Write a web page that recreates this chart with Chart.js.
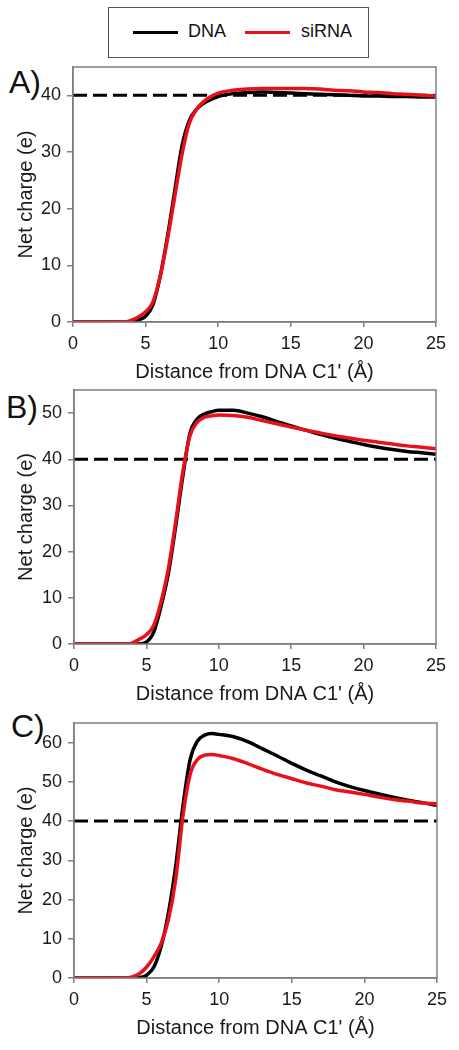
<!DOCTYPE html>
<html>
<head>
<meta charset="utf-8">
<script src="https://cdn.jsdelivr.net/npm/chart.js@4/dist/chart.umd.min.js"></script>
<style>
  body { margin: 0; background: #fff; font-family: Arial, "Liberation Sans", sans-serif; }
  #wrap { position: relative; width: 459px; height: 1050px; }
  canvas { position: absolute; left: 0; }
  .panel { position: absolute; font-size: 32px; color: #111; line-height: 1; }
  #legend { position: absolute; left: 108px; top: 7px; width: 259px; height: 49px;
            border: 1px solid #555; box-sizing: content-box; }
  .key { position: absolute; top: 23px; height: 3px; width: 45px; }
  .lbl { position: absolute; top: 13px; font-size: 18px; color: #111; }
</style>
</head>
<body>
<div id="wrap">
  <div id="legend">
    <div class="key" style="left:24px;background:#000"></div>
    <div class="lbl" style="left:79px">DNA</div>
    <div class="key" style="left:136px;background:#e8101a"></div>
    <div class="lbl" style="left:192px">siRNA</div>
  </div>
  <div class="panel" style="left:9px;top:66px">A)</div>
  <div class="panel" style="left:6px;top:391px">B)</div>
  <div class="panel" style="left:11px;top:710px">C)</div>
  <canvas id="chartA" style="top:60px" width="459" height="324"></canvas>
  <canvas id="chartB" style="top:386px" width="459" height="320"></canvas>
  <canvas id="chartC" style="top:719px" width="459" height="321"></canvas>
</div>
<script>
// distance from DNA C1' (Å)
const distance = [0, 1, 2, 3, 3.5, 4, 4.5, 5, 5.5, 6, 6.5, 7, 7.5, 8, 8.5, 9, 9.5, 10,
                  11, 12, 13, 14, 15, 16, 17, 18, 19, 20, 21, 22, 23, 24, 25];

// panel A
const dnaA   = [0, 0, 0, 0, 0, 0.1, 0.4, 1.0, 3.0, 8, 15, 23, 31, 35.5, 37.5, 38.6, 39.3, 39.8,
                40.3, 40.5, 40.6, 40.5, 40.4, 40.3, 40.2, 40.1, 40.0, 39.9, 39.9, 39.8, 39.8, 39.7, 39.7];
const sirnaA = [0, 0, 0, 0, 0, 0.3, 0.9, 1.8, 3.5, 8, 14.5, 22, 29.5, 35, 37.5, 38.9, 39.8, 40.4,
                40.9, 41.1, 41.2, 41.2, 41.2, 41.2, 41.1, 40.9, 40.8, 40.6, 40.5, 40.3, 40.2, 40.0, 39.9];

// panel B
const dnaB   = [0, 0, 0, 0, 0, 0, 0, 0.4, 2.5, 8, 15, 25, 36, 45.5, 48.7, 49.8, 50.3, 50.6,
                50.6, 50.0, 49.2, 48.2, 47.2, 46.3, 45.4, 44.6, 43.9, 43.2, 42.6, 42.1, 41.7, 41.4, 41.1];
const sirnaB = [0, 0, 0, 0, 0, 0.2, 1.0, 2.0, 4.0, 9, 16, 26, 37, 45, 48, 49.1, 49.4, 49.6,
                49.5, 49.1, 48.4, 47.7, 47.0, 46.3, 45.7, 45.1, 44.6, 44.1, 43.7, 43.3, 42.9, 42.6, 42.3];

// panel C
const dnaC   = [0, 0, 0, 0, 0, 0, 0.1, 0.7, 2.8, 8, 16.5, 28.4, 43.8, 55.7, 60.4, 61.9, 62.3, 62.1,
                61.5, 60.2, 58.4, 56.6, 54.7, 53.0, 51.5, 50.0, 48.8, 47.8, 46.9, 46.1, 45.3, 44.7, 44.0];
const sirnaC = [0, 0, 0, 0, 0, 0.3, 1.1, 2.8, 5.4, 8.8, 14.8, 25, 41.2, 51.9, 55.7, 56.8, 57.0, 56.7,
                55.9, 54.6, 53.2, 51.9, 50.8, 49.7, 48.9, 48.0, 47.4, 46.8, 46.1, 45.5, 45.1, 44.6, 44.4];

const reference = 40;
const xTicks = [0, 5, 10, 15, 20, 25];
const yTicksA = [0, 10, 20, 30, 40];
const yTicksB = [0, 10, 20, 30, 40, 50];
const yTicksC = [0, 10, 20, 30, 40, 50, 60];

const axisColor = '#808080';
const textColor = '#1a1a1a';
const dnaColor = '#000000';
const sirnaColor = '#e8101a';

function pts(ys) {
    return distance.map((x, i) => ({ x: x, y: ys[i] }));
}

// draws the box around the plot area (top and right sides too)
const frame = {
    id: 'frame',
    afterDatasetsDraw(chart) {
        const a = chart.chartArea;
        const ctx = chart.ctx;
        ctx.save();
        ctx.strokeStyle = axisColor;
        ctx.lineWidth = 1.5;
        ctx.strokeRect(a.left, a.top, a.right - a.left, a.bottom - a.top);
        ctx.restore();
    }
};

function makeChart(id, dna, sirna, yTicks, yMax, yLeft, right, padTop) {
    new Chart(document.getElementById(id), {
        type: 'line',
        data: {
            datasets: [
                {
                    label: 'reference',
                    data: [{ x: 0, y: reference }, { x: 25, y: reference }],
                    borderColor: '#000',
                    borderWidth: 3,
                    borderDash: [14, 6],
                    pointRadius: 0,
                    order: 3
                },
                {
                    label: 'DNA',
                    data: pts(dna),
                    borderColor: dnaColor,
                    borderWidth: 3.5,
                    pointRadius: 0,
                    cubicInterpolationMode: 'monotone',
                    order: 2
                },
                {
                    label: 'siRNA',
                    data: pts(sirna),
                    borderColor: sirnaColor,
                    borderWidth: 3.5,
                    pointRadius: 0,
                    cubicInterpolationMode: 'monotone',
                    order: 1
                }
            ]
        },
        options: {
            responsive: false,
            animation: false,
            events: [],
            layout: { padding: { top: padTop, right: 459 - right, left: 0, bottom: 0 } },
            plugins: { legend: { display: false }, tooltip: { enabled: false } },
            scales: {
                x: {
                    type: 'linear',
                    min: 0,
                    max: 25,
                    afterBuildTicks: s => { s.ticks = xTicks.map(v => ({ value: v })); },
                    afterFit: s => {
                        s.height = 62;
                        s.paddingLeft = 0; s.paddingRight = 0;
                    },
                    grid: { drawOnChartArea: false, drawTicks: true, tickLength: 5, color: axisColor, lineWidth: 1.5 },
                    border: { color: axisColor, width: 1.5 },
                    ticks: { color: textColor, font: { size: 18, family: 'Arial, "Liberation Sans"' }, padding: 6, maxRotation: 0 },
                    title: {
                        display: true,
                        text: "Distance from DNA C1' (Å)",
                        color: textColor,
                        font: { size: 20, family: 'Arial, "Liberation Sans"' },
                        padding: { top: 0, bottom: 0 }
                    }
                },
                y: {
                    min: 0,
                    max: yMax,
                    afterBuildTicks: s => { s.ticks = yTicks.map(v => ({ value: v })); },
                    afterFit: s => {
                        s.width = yLeft;
                        s.paddingTop = 0; s.paddingBottom = 0;
                    },
                    grid: { drawOnChartArea: false, drawTicks: true, tickLength: 6, color: axisColor, lineWidth: 1.5 },
                    border: { color: axisColor, width: 1.5 },
                    ticks: { color: textColor, font: { size: 18, family: 'Arial, "Liberation Sans"' }, padding: 6 },
                    title: {
                        display: true,
                        text: 'Net charge (e)',
                        color: textColor,
                        font: { size: 20, family: 'Arial, "Liberation Sans"' },
                        padding: { top: 14, bottom: 0 }
                    }
                }
            }
        },
        plugins: [frame]
    });
}

makeChart('chartA', dnaA, sirnaA, yTicksA, 45, 73, 436, 7);
makeChart('chartB', dnaB, sirnaB, yTicksB, 55, 74, 436, 4);
makeChart('chartC', dnaC, sirnaC, yTicksC, 65, 74, 437, 4);
</script>
</body>
</html>
